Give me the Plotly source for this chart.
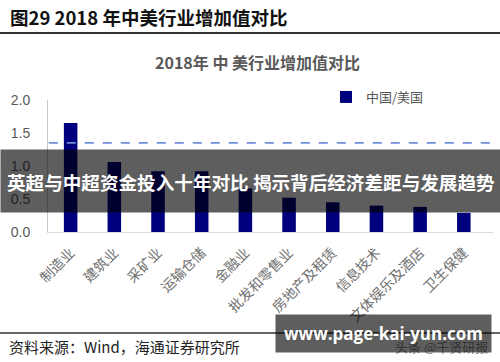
import plotly.graph_objects as go

categories = ["制造业", "建筑业", "采矿业", "运输仓储", "金融业", "批发和零售业",
              "房地产及租赁", "信息技术", "文体娱乐及酒店", "卫生保健"]
ratio_values = [1.65, 1.06, 0.92, 0.92, 0.66, 0.52, 0.45, 0.40, 0.38, 0.29]
overall_ratio = 1.35
series_name = "中国/美国"
y_ticks = [0.0, 0.5, 1.0, 1.5, 2.0]
y_tick_labels = ["0.0", "0.5", "1.0", "1.5", "2.0"]

W, H = 500, 362
L, R, T, B = 48, 493, 100, 232


def px(x):
    return (x - L) / (R - L)


def py(y):
    return (B - y) / (B - T)


CJK = "Noto Sans CJK SC"
fig = go.Figure()
fig.add_trace(go.Bar(x=categories, y=ratio_values, name=series_name,
                     marker=dict(color="#00007f", line=dict(width=0)), width=0.31))

fig.add_shape(type="line", xref="x", yref="y", x0=-0.5, x1=9.65,
              y0=overall_ratio, y1=overall_ratio,
              line=dict(color="#6f8fd8", width=1.6, dash="dash"))

# header rule and footer rule
fig.add_shape(type="line", xref="paper", yref="paper", x0=px(0), x1=px(500),
              y0=py(33), y1=py(33), line=dict(color="#333333", width=2))
fig.add_shape(type="line", xref="paper", yref="paper", x0=px(0), x1=px(500),
              y0=py(333), y1=py(333), line=dict(color="#333333", width=1.5))

ann = []
ann.append(dict(text="<b>图29 2018 年中美行业增加值对比</b>", x=px(8), y=py(17),
                xanchor="left", yanchor="middle", showarrow=False,
                font=dict(family=CJK, size=18.5, color="#111111")))
ann.append(dict(text="<b>2018年 中 美行业增加值对比</b>", x=px(257), y=py(62),
                xanchor="center", yanchor="middle", showarrow=False,
                font=dict(family=CJK, size=16, color="#595959")))
ann.append(dict(text="资料来源：Wind，海通证券研究所", x=px(7), y=py(346),
                xanchor="left", yanchor="middle", showarrow=False,
                font=dict(family=CJK, size=15, color="#222222")))
ann.append(dict(text="头条 @千贤研报", x=px(490), y=py(346),
                xanchor="right", yanchor="middle", showarrow=False,
                font=dict(family=CJK, size=13, color="#888888")))
# overlay banners
ann.append(dict(text="<b>英超与中超资金投入十年对比 揭示背后经济差距与发展趋势</b>",
                x=px(251), y=py(181), xanchor="center", yanchor="middle",
                showarrow=False, width=500, height=62, borderpad=0,
                bgcolor="rgba(0,0,0,0.63)",
                font=dict(family=CJK, size=18.6, color="#ffffff")))
ann.append(dict(text="<b>www.page-kai-yun.com</b>",
                x=px(383.5), y=py(333.5), xanchor="center", yanchor="middle",
                showarrow=False, width=215, height=37, borderpad=0,
                bgcolor="rgba(0,0,0,0.63)",
                font=dict(family="Open Sans", size=17, color="#ffffff")))
for a in ann:
    a["xref"] = "paper"
    a["yref"] = "paper"

fig.update_layout(
    width=W, height=H, margin=dict(l=L, r=W - R, t=T, b=H - B, autoexpand=False),
    paper_bgcolor="white", plot_bgcolor="white",
    annotations=ann,
    showlegend=True,
    legend=dict(x=px(326), y=py(97), xanchor="left", yanchor="middle",
                bgcolor="rgba(0,0,0,0)", font=dict(family=CJK, size=13, color="#555555"),
                itemwidth=30, tracegroupgap=0),
    bargap=0.69,
)
fig.update_xaxes(showline=True, linecolor="#d9d9d9", linewidth=1, ticks="",
                 tickangle=-45, tickfont=dict(family=CJK, size=14, color="#707070"),
                 ticklabelstandoff=6,
                 showgrid=False, fixedrange=True, automargin=False)
fig.update_yaxes(range=[0, 2], tickvals=y_ticks, ticktext=y_tick_labels,
                 showline=True, linecolor="#c8c8c8", linewidth=1, showgrid=False,
                 zeroline=False, ticks="", ticklabelstandoff=14, automargin=False,
                 fixedrange=True,
                 tickfont=dict(family="Liberation Sans", size=14, color="#595959"))

fig.write_html("out.html", config={"displayModeBar": False, "staticPlot": True},
               post_script="document.body.style.margin='0';document.body.style.overflow='hidden';")
